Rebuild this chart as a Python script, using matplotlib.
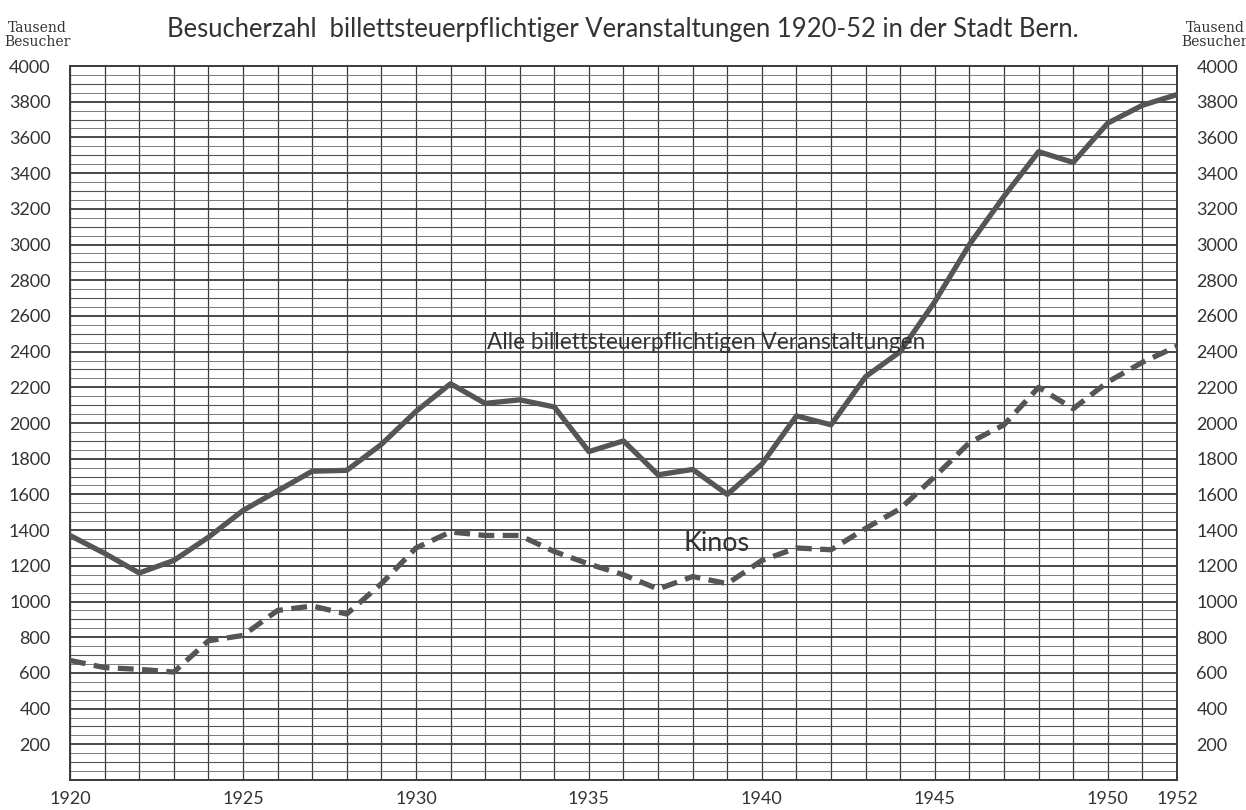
import matplotlib.pyplot as plt
import numpy as np

years = list(range(1920, 1953))

# Alle billettsteuerpflichtigen Veranstaltungen (Tausend Besucher)
alle = [1370, 1270, 1160, 1230, 1360, 1510, 1620, 1730, 1735, 1880,
        2065, 2220, 2110, 2130, 2090, 1840, 1900, 1710, 1740, 1600,
        1770, 2040, 1990, 2260, 2400, 2680, 3000, 3270, 3520, 3460,
        3680, 3780, 3840]

# Kinos
kinos = [670, 630, 620, 605, 780, 810, 950, 975, 930, 1100,
         1300, 1390, 1370, 1370, 1280, 1210, 1150, 1070, 1140, 1100,
         1230, 1300, 1290, 1410, 1520, 1700, 1890, 1990, 2200, 2080,
         2230, 2340, 2430]

y_ticks = list(range(200, 4001, 200))
x_ticks = [1920, 1925, 1930, 1935, 1940, 1945, 1950, 1952]

plt.rcParams['font.family'] = ['Lato', 'DejaVu Sans']

fig = plt.figure(figsize=(12.46, 8.10), dpi=100)
ax = fig.add_axes([0.0562, 0.037, 0.8884, 0.8815])

ink = '#3a3a3a'

# grid: every year vertical, every 50 horizontal, heavier every 200
for yr in years:
    ax.axvline(yr, color=ink, lw=0.9, zorder=1)
for v in range(50, 4000, 50):
    if v % 200 == 0:
        lw, c = 1.3, ink
    elif v % 100 == 0:
        lw, c = 0.8, '#555555'
    else:
        lw, c = 0.6, '#666666'
    ax.axhline(v, color=c, lw=lw, zorder=1)

ax.plot(years, alle, color='#555555', lw=3.8, zorder=3)
ax.plot(years, kinos, color='#555555', lw=3.8, dashes=(3, 1.6), zorder=3)

ax.set_xlim(1920, 1952)
ax.set_ylim(0, 4000)
for s in ax.spines.values():
    s.set_color(ink)
    s.set_linewidth(1.4)

ax.set_yticks(y_ticks)
ax.set_yticklabels([str(v) for v in y_ticks])
ax.set_xticks(x_ticks)
ax.set_xticklabels([str(v) for v in x_ticks])
ax.tick_params(axis='both', length=0, labelsize=13, colors='#333333')
ax.tick_params(axis='y', pad=14, right=True, labelright=True)
ax.tick_params(axis='x', pad=8)

title = fig.text(0.5, 0.963,
                 'Besucherzahl  billettsteuerpflichtiger Veranstaltungen 1920-52 in der Stadt Bern.',
                 ha='center', va='center', fontsize=22, color='#333333')
fig.text(0.030, 0.957, 'Tausend\nBesucher', ha='center', va='center', fontsize=10,
         color='#333333', linespacing=1.0, family=['DejaVu Serif'])
fig.text(0.975, 0.957, 'Tausend\nBesucher', ha='center', va='center', fontsize=10,
         color='#333333', linespacing=1.0, family=['DejaVu Serif'])

lab1 = ax.text(1938.4, 2390, 'Alle billettsteuerpflichtigen Veranstaltungen', ha='center',
               va='bottom', fontsize=16, color='#333333', zorder=4)
lab2 = ax.text(1938.7, 1255, 'Kinos', ha='center', va='bottom', fontsize=16,
               color='#333333', zorder=4)

# fit text widths to the hand lettering
fig.canvas.draw()
r = fig.canvas.get_renderer()
for t, w in [(title, 910), (lab1, 440), (lab2, 66)]:
    cur = t.get_window_extent(r).width
    t.set_fontsize(t.get_fontsize() * w / cur)

fig.savefig('out.png', dpi=100, facecolor='white')
